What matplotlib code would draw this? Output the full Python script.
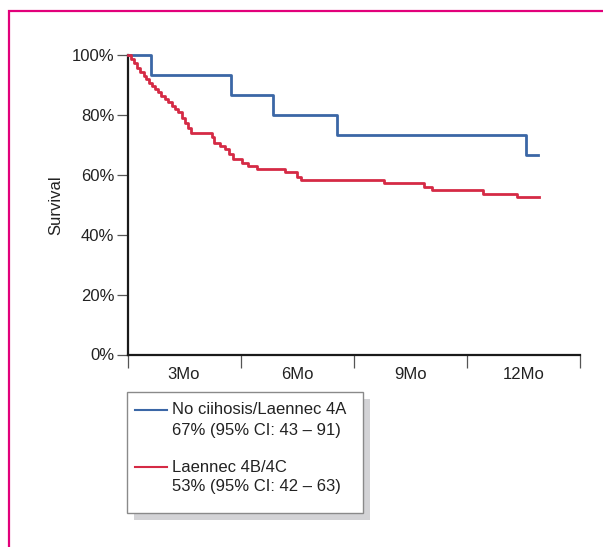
import matplotlib
matplotlib.use("Agg")
import matplotlib.pyplot as plt
from matplotlib.patches import Rectangle

plt.rcParams["font.family"] = ["Liberation Sans", "DejaVu Sans"]

# survival steps (months, survival %)
blue_times = [0.0, 0.62, 2.74, 3.85, 5.55, 10.56]
blue_surv = [100.0, 93.3, 86.7, 80.0, 73.3, 66.7]
blue_end = 10.89

red_times = [0.0, 0.09, 0.17, 0.25, 0.33, 0.44, 0.49, 0.57, 0.65, 0.73,
             0.81, 0.89, 0.99, 1.07, 1.18, 1.26, 1.34, 1.44, 1.53, 1.61,
             1.68, 2.23, 2.29, 2.45, 2.59, 2.70, 2.81, 3.03, 3.20, 3.43,
             4.18, 4.49, 4.59, 6.81, 7.86, 8.07, 9.42, 10.34]
red_surv = [100.0, 98.6, 97.2, 95.8, 94.4, 93.0, 91.9, 90.8, 89.7, 88.6,
            87.5, 86.4, 85.3, 84.2, 83.1, 82.0, 80.9, 78.9, 77.4, 75.5,
            74.1, 72.7, 70.7, 69.7, 68.5, 66.8, 65.2, 64.0, 62.9, 61.8,
            60.8, 59.4, 58.3, 57.3, 55.9, 54.8, 53.7, 52.5]
red_end = 10.90

month_ticks = [0, 3, 6, 9, 12]
month_label_pos = [1.5, 4.5, 7.5, 10.5]
month_labels = ["3Mo", "6Mo", "9Mo", "12Mo"]
pct_ticks = [0, 20, 40, 60, 80, 100]
pct_labels = ["0%", "20%", "40%", "60%", "80%", "100%"]

legend_names = ["No ciihosis/Laennec 4A", "Laennec 4B/4C"]
legend_ci = ["67% (95% CI: 43 \u2013 91)", "53% (95% CI: 42 \u2013 63)"]

BLUE = "#3b67a6"
RED = "#d52a45"
MAGENTA = "#e2007a"

W, H = 603, 547
fig = plt.figure(figsize=(W / 100, H / 100), dpi=100)

# pixel-space overlay for frame and legend box
over = fig.add_axes([0, 0, 1, 1])
over.set_xlim(0, W)
over.set_ylim(H, 0)
over.axis("off")
over.plot([9, 9, W], [H, 11, 11], color=MAGENTA, lw=1.6, solid_joinstyle="miter")

# main axes
axis = fig.add_axes([127.5 / W, 1 - 354.5 / H, (580 - 127.5) / W, (354.5 - 55) / H])
axis.patch.set_alpha(0)
axis.step(blue_times + [blue_end], blue_surv + [blue_surv[-1]], where="post",
          color=BLUE, lw=2.0, clip_on=False, zorder=3)
axis.step(red_times + [red_end], red_surv + [red_surv[-1]], where="post",
          color=RED, lw=2.0, clip_on=False, zorder=3)
axis.set_xlim(0, 12)
axis.set_ylim(0, 100)
for side in ["top", "right"]:
    axis.spines[side].set_visible(False)
for side in ["left", "bottom"]:
    axis.spines[side].set_linewidth(1.6)
    axis.spines[side].set_color("#1a1a1a")

axis.set_yticks(pct_ticks)
axis.set_yticklabels(pct_labels, fontsize=12, color="#222222")
axis.tick_params(axis="y", length=8, width=0.9, color="#555555", pad=1.5)

axis.set_xticks(month_label_pos)
axis.set_xticklabels(month_labels, fontsize=12, color="#222222")
axis.set_xticks(month_ticks, minor=True)
axis.tick_params(axis="x", which="major", length=0, pad=9)
axis.tick_params(axis="x", which="minor", length=9, width=0.9, color="#555555")

axis.set_ylabel("Survival", fontsize=12, color="#222222", labelpad=6)

# legend box with drop shadow
over.add_patch(Rectangle((134, 399), 236, 121, facecolor="#d3d3d6", edgecolor="none"))
over.add_patch(Rectangle((127, 392), 236, 121, facecolor="white", edgecolor="#8a8a8a", lw=1.0))
for i, (name, ci, color) in enumerate(zip(legend_names, legend_ci, [BLUE, RED])):
    y0 = 410 + i * 57
    over.plot([135, 167], [y0, y0], color=color, lw=1.5)
    over.text(172, y0, name, fontsize=12, va="center", ha="left", color="#222222")
    over.text(172, y0 + 20, ci, fontsize=12, va="center", ha="left", color="#222222")

fig.savefig("out.png", dpi=100)
